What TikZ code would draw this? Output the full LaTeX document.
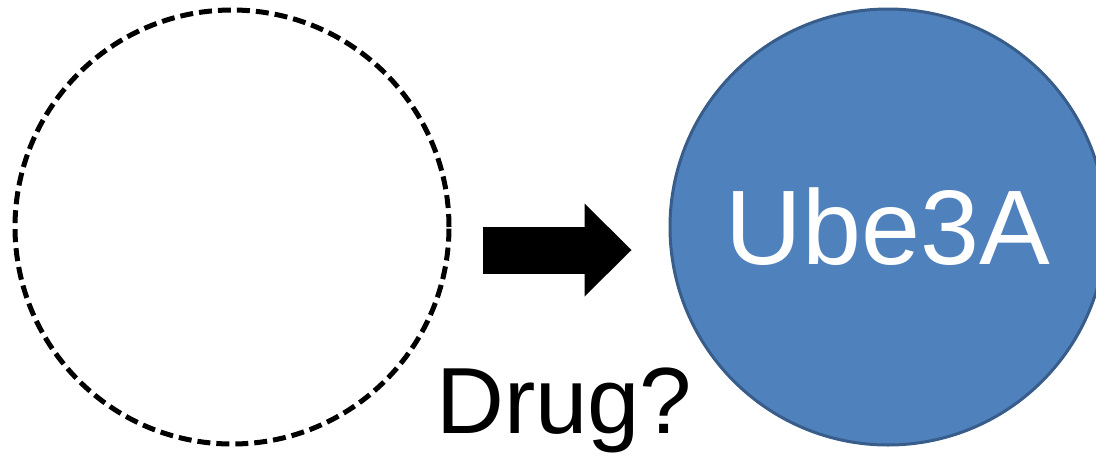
\documentclass[tikz,border=0pt]{standalone}
\usepackage{fontspec}
\setmainfont{Liberation Sans}
\definecolor{ubeblue}{RGB}{79,129,189}
\definecolor{ubeedge}{RGB}{56,93,138}
\usetikzlibrary{
  arrows.meta,
  positioning
}

\begin{document}
\begin{tikzpicture}[x=1pt, y=-1pt]
  \useasboundingbox (0,0) rectangle (1096,456);
  \clip (0,0) rectangle (1096,456);

  % Unknown drug
  \node[circle, draw=black, line width=5pt, dash pattern=on 13pt off 6pt,
        minimum size=434pt, inner sep=0pt] (drugcircle) at (232,227) {};

  % Target
  \node[circle, draw=ubeedge, fill=ubeblue, line width=3pt,
        minimum size=436pt, inner sep=0pt, text=white,
        font=\fontsize{106}{120}\selectfont] (ube) at (888,227) {Ube3A};

  % Block arrow
  \draw[line width=47pt, -{Triangle[length=47pt, width=93pt, line width=0pt]}]
    ([yshift=-23pt, xshift=31pt]drugcircle.east) -- ([yshift=-23pt, xshift=-37pt]ube.west);

  % Label
  \node[anchor=base west, inner sep=0pt, font=\fontsize{94}{110}\selectfont] (drug) at (436,433) {Drug?};
\end{tikzpicture}
\end{document}
